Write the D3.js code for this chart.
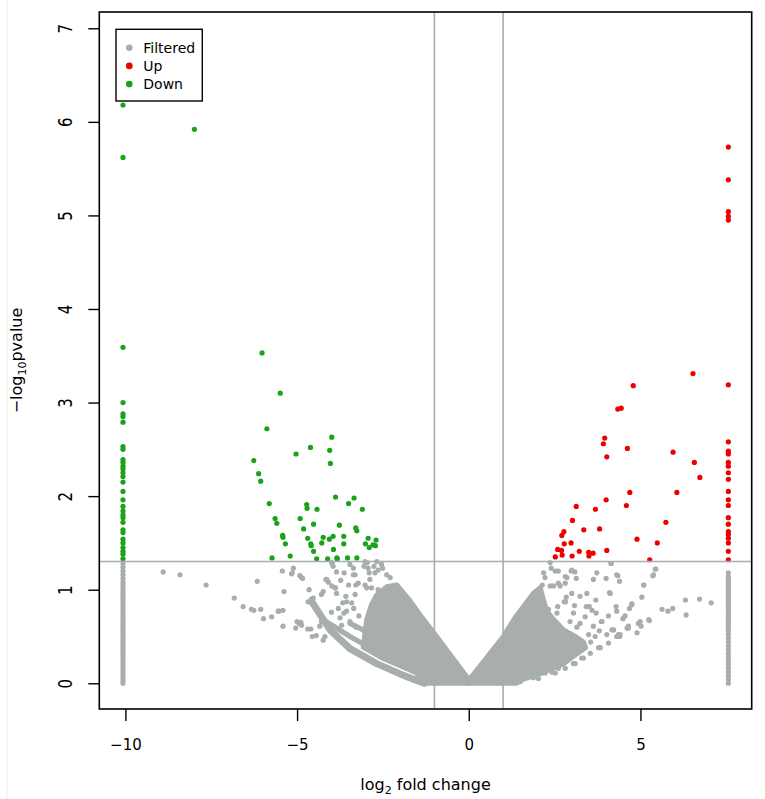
<!DOCTYPE html>
<html>
<head>
<meta charset="utf-8">
<script src="https://cdn.jsdelivr.net/npm/d3@7"></script>
<style>
  body { margin: 0; background: #fff; }
  text { font-family: "DejaVu Sans", sans-serif; fill: #000; }
</style>
</head>
<body>
<svg id="chart" width="765" height="799"></svg>
<script>
// tick labels
var xTicks = [-10, -5, 0, 5];
var yTicks = [0, 1, 2, 3, 4, 5, 6, 7];
var legendLabels = ["Filtered", "Up", "Down"];

// significant, down-regulated (log2FC, -log10 p)
var downPoints = [
  [-10.07, 6.18], [-7.99, 5.92], [-10.07, 5.62],
  [-6.02, 3.53], [-5.49, 3.10], [-5.88, 2.72], [-3.99, 2.63], [-4.61, 2.52], [-4.05, 2.49],
  [-5.03, 2.45], [-6.26, 2.38], [-4.03, 2.35], [-6.12, 2.24], [-6.06, 2.16], [-3.88, 1.99],
  [-3.34, 1.98], [-3.50, 1.92], [-5.81, 1.92], [-4.72, 1.91], [-4.71, 1.87], [-4.42, 1.86],
  [-3.10, 1.86], [-5.64, 1.76], [-5.59, 1.71], [-4.91, 1.76], [-4.52, 1.70], [-3.77, 1.69],
  [-4.81, 1.65], [-3.29, 1.66], [-3.26, 1.63], [-5.42, 1.58], [-5.41, 1.56], [-4.69, 1.55],
  [-4.24, 1.56], [-3.95, 1.57], [-3.64, 1.57], [-4.06, 1.54], [-2.93, 1.55], [-2.70, 1.53],
  [-5.34, 1.49], [-4.60, 1.49], [-4.59, 1.47], [-4.28, 1.50], [-3.64, 1.49], [-3.01, 1.49],
  [-2.79, 1.48], [-2.72, 1.47], [-2.90, 1.45], [-3.94, 1.43], [-4.52, 1.41], [-5.73, 1.34],
  [-5.20, 1.36], [-4.43, 1.33], [-4.11, 1.33], [-3.84, 1.34], [-3.83, 1.33], [-3.53, 1.34],
  [-3.26, 1.34]
];
// genes pinned at log2FC = -10 (down)
var downColumnX = -10.07;
var downColumnY = [3.59, 3.00, 2.88, 2.85, 2.79, 2.53, 2.50, 2.39, 2.36, 2.32, 2.29, 2.25, 2.21,
  2.15, 2.05, 1.96, 1.89, 1.84, 1.80, 1.77, 1.72, 1.64, 1.61, 1.54, 1.50, 1.45, 1.41, 1.38, 1.33];

// significant, up-regulated
var upPoints = [
  [6.53, 3.31], [4.79, 3.18], [4.34, 2.93], [4.44, 2.94], [3.96, 2.62], [3.92, 2.56], [4.62, 2.51],
  [4.02, 2.42], [5.95, 2.47], [6.57, 2.36], [6.73, 2.20], [6.06, 2.04], [4.69, 2.04], [4.00, 1.96],
  [4.59, 1.90], [3.13, 1.89], [3.69, 1.86], [5.74, 1.72], [3.02, 1.74], [3.35, 1.64], [3.81, 1.65],
  [2.77, 1.62], [2.71, 1.58], [4.90, 1.54], [5.49, 1.50], [2.98, 1.50], [2.78, 1.49], [2.59, 1.43],
  [2.70, 1.42], [3.22, 1.41], [3.49, 1.40], [3.62, 1.39], [4.02, 1.42], [2.52, 1.35], [2.72, 1.37],
  [3.01, 1.36], [3.50, 1.36], [5.27, 1.32]
];
var upColumnX = 7.56;
var upColumnY = [5.73, 5.38, 5.04, 4.99, 4.95, 3.19, 2.58, 2.48, 2.45, 2.36, 2.32, 2.25, 2.18,
  2.05, 1.96, 1.90, 1.77, 1.70, 1.62, 1.59, 1.55, 1.50, 1.41, 1.32];

// not significant: scattered genes
var filteredPoints = [
  [-8.90, 1.19], [-8.41, 1.16], [-7.65, 1.05], [-6.16, 1.09], [-6.83, 0.91], [-6.57, 0.82],
  [-6.33, 0.79], [-6.26, 0.78], [-6.06, 0.79], [-5.98, 0.69], [-5.74, 0.71], [-5.53, 0.77],
  [-5.41, 0.78], [-5.38, 0.98], [-5.43, 1.20], [-5.14, 1.18], [-5.41, 0.61], [-5.04, 0.59],
  [-5.00, 0.66], [-4.89, 0.65], [-4.69, 0.58], [-4.60, 0.58], [-4.56, 0.50], [-4.44, 0.51],
  [-4.24, 0.46], [-4.19, 0.50], [-4.92, 1.15], [-4.87, 1.13], [-4.65, 1.00], [-4.24, 0.98],
  [-4.14, 1.11], [-4.09, 1.08], [-3.98, 1.28], [-3.95, 1.25], [-3.88, 1.02], [-3.85, 0.96],
  [-3.63, 1.18], [-3.50, 1.05], [-3.36, 1.23], [-3.31, 1.16], [-3.22, 1.07], [-2.96, 1.29],
  [-2.76, 1.25], [-2.54, 1.27], [-5.11, 1.23], [-5.16, 1.17], [-4.84, 1.12], [-4.68, 0.87],
  [-4.58, 0.90], [-4.53, 0.91], [-4.29, 0.95], [-4.16, 1.11], [-3.99, 1.04], [-3.90, 1.02],
  [-3.73, 1.10], [-3.85, 1.19], [-3.99, 1.29], [-3.46, 1.27], [-3.36, 1.16], [-3.29, 1.05],
  [-3.58, 0.93], [-3.56, 0.87], [-3.67, 0.86], [-3.41, 0.86], [-3.75, 0.70], [-3.64, 0.75],
  [-3.56, 0.77], [-3.46, 0.66], [-3.31, 0.95], [-3.02, 1.30], [-2.93, 1.23], [-3.05, 1.25],
  [-2.90, 1.18], [-3.02, 1.05], [-2.97, 1.02], [-2.68, 1.30], [-2.64, 1.21], [-2.51, 1.23],
  [-2.73, 1.18], [-2.39, 1.16], [-2.29, 1.13], [-2.88, 1.11], [-2.83, 1.02], [-2.64, 1.00],
  [-4.34, 0.61], [-4.29, 0.66], [-4.94, 0.64], [-4.87, 0.62], [-5.55, 0.77],
  [-3.80, 0.80], [-3.70, 0.62], [-3.35, 0.80], [-3.20, 0.72], [-3.28, 0.60], [-4.00, 0.76],
  [5.63, 0.79], [5.80, 0.77], [5.94, 0.80], [6.31, 0.89], [6.72, 0.90], [7.06, 0.86], [6.33, 0.73],
  [5.26, 0.67], [4.99, 0.66], [5.02, 0.61], [4.90, 0.54], [5.04, 0.92], [5.10, 1.05], [5.36, 1.15],
  [5.43, 1.22], [4.14, 1.28], [4.31, 1.16], [4.39, 1.09], [4.10, 0.97], [4.00, 1.12], [3.73, 1.18],
  [3.63, 1.11], [3.44, 0.96], [3.70, 0.89], [3.08, 0.83], [3.00, 0.96], [3.09, 1.19], [2.82, 0.87],
  [2.59, 0.82], [3.42, 0.82], [3.59, 0.78], [3.71, 0.75], [3.86, 0.66], [4.29, 0.82], [4.31, 0.77],
  [4.49, 0.69], [4.75, 0.85], [4.68, 0.80], [4.61, 0.59], [4.22, 0.57], [4.39, 0.50], [4.02, 0.52],
  [2.37, 1.29], [2.52, 1.20], [2.18, 1.18], [2.14, 1.05], [2.37, 1.04], [2.61, 1.07], [2.86, 1.13],
  [3.00, 1.21], [2.84, 0.92], [2.08, 0.89], [2.32, 0.79], [2.40, 1.23], [2.61, 1.20], [2.22, 1.13],
  [2.47, 1.04], [2.66, 1.04], [2.81, 1.07], [2.81, 1.14], [2.98, 1.20], [3.13, 1.12], [3.24, 0.93],
  [4.15, 1.28], [4.34, 1.15], [4.12, 0.96], [3.51, 0.82], [3.39, 0.71], [3.24, 0.64], [2.78, 0.87],
  [2.57, 0.75], [3.05, 0.75], [4.07, 0.72], [3.88, 0.66], [3.63, 0.61], [3.49, 0.52], [3.68, 0.50],
  [4.17, 0.57], [4.41, 0.52], [4.65, 0.61], [4.94, 0.64], [5.09, 1.05], [4.75, 0.84], [5.24, 0.68],
  [5.38, 1.16], [5.45, 1.22], [2.95, 0.66], [3.15, 0.60], [3.55, 0.44], [3.80, 0.56], [4.55, 0.72],
  [1.35, 0.02], [1.50, 0.02], [1.88, 0.06], [2.03, 0.05], [2.13, 0.11], [2.22, 0.11], [2.42, 0.12],
  [2.52, 0.11], [2.61, 0.16], [2.81, 0.16], [3.05, 0.21], [3.10, 0.21], [3.29, 0.27], [3.34, 0.27],
  [3.54, 0.32], [3.78, 0.38], [3.83, 0.38], [4.07, 0.43], [4.31, 0.50], [4.36, 0.52], [4.65, 0.59]
];
var filteredLeftColumnX = -10.07;
var filteredLeftColumnY = [0, 0.03, 0.06, 0.09, 0.12, 0.15, 0.18, 0.21, 0.24, 0.27, 0.30, 0.33,
  0.36, 0.39, 0.42, 0.45, 0.48, 0.51, 0.54, 0.57, 0.60, 0.63, 0.66, 0.69, 0.72, 0.75, 0.78, 0.81,
  0.84, 0.87, 0.90, 0.93, 0.96, 0.99, 1.02, 1.05, 1.08, 1.12, 1.16, 1.20, 1.24, 1.28];
var filteredRightColumnX = 7.56;
var filteredRightColumnY = [0, 0.04, 0.08, 0.12, 0.16, 0.20, 0.24, 0.28, 0.32, 0.36, 0.40, 0.44,
  0.48, 0.52, 0.56, 0.60, 0.63, 0.66, 0.69, 0.72, 0.75, 0.78, 0.81, 0.84, 0.87, 0.90, 0.93, 0.96,
  0.99, 1.02, 1.05, 1.08, 1.11, 1.14, 1.18];

// the densely overplotted parts of the cloud, outlined in data units
var denseLeft = [[-3.07, 0.385], [-2.97, 0.68], [-2.83, 0.84], [-2.68, 0.94], [-2.39, 1.03],
  [-2.10, 1.05], [-1.71, 0.88], [-1.42, 0.73], [-0.98, 0.52], [-0.45, 0.26], [0, 0.04], [0, 0],
  [-1.32, 0], [-1.52, 0.11], [-1.91, 0.175], [-2.49, 0.265]];
var denseRight = [[0, 0.03], [0.28, 0.16], [0.67, 0.34], [1.01, 0.50], [1.35, 0.70], [1.64, 0.84],
  [1.88, 0.96], [2.08, 1.02], [2.15, 0.92], [2.27, 0.77], [2.47, 0.68], [2.76, 0.57], [3.10, 0.50],
  [3.34, 0.44], [3.40, 0.38], [3.05, 0.29], [2.76, 0.21], [2.37, 0.15], [1.98, 0.09], [1.55, 0.04],
  [1.40, 0], [0, 0]];
var strandLow = [[-4.57, 0.87], [-4.04, 0.57], [-3.46, 0.37], [-2.68, 0.21], [-2.00, 0.10],
  [-1.52, 0.03], [-1.30, 0.0]];
var strandMid = [[-4.24, 0.68], [-3.46, 0.50], [-3.07, 0.42]];
var strandUpper = [[-3.46, 0.64], [-2.97, 0.55]];

var fcCut = [-1, 1];
var pCut = 1.301;

var colGray = "#a8adad", colUp = "#ee0000", colDown = "#18a318";

function drawChart() {
    var svg = d3.select("#chart");
    var left = 99.3, right = 751.7, top = 12, bottom = 709;

    var x = d3.scaleLinear().domain([-10.76, 8.24]).range([left, right]);
    var y = d3.scaleLinear().domain([-0.275, 7.174]).range([bottom, top]);

    // faint figure border on the left
    svg.append("line").attr("x1", 7).attr("x2", 7).attr("y1", 0).attr("y2", 799)
        .attr("stroke", "#ececec").attr("stroke-width", 1);

    var plot = svg.append("g");

    var area = d3.line().x(function (d) { return x(d[0]); }).y(function (d) { return y(d[1]); });

    [denseLeft, denseRight].forEach(function (poly) {
        plot.append("path")
            .attr("d", area.curve(d3.curveLinearClosed)(poly))
            .attr("fill", colGray).attr("stroke", colGray)
            .attr("stroke-width", 5.2).attr("stroke-linejoin", "round");
    });
    [[strandLow, 7], [strandMid, 5.2], [strandUpper, 5.2]].forEach(function (s) {
        plot.append("path")
            .attr("d", area.curve(d3.curveLinear)(s[0]))
            .attr("fill", "none").attr("stroke", colGray)
            .attr("stroke-width", s[1]).attr("stroke-linecap", "round").attr("stroke-linejoin", "round");
    });

    function dots(data, colour) {
        plot.append("g").selectAll("circle")
            .data(data)
            .enter()
            .append("circle")
            .attr("cx", function (d) { return x(d[0]); })
            .attr("cy", function (d) { return y(d[1]); })
            .attr("r", 2.6)
            .attr("fill", colour);
    }

    var col = function (cx, ys) { return ys.map(function (v) { return [cx, v]; }); };

    dots(filteredPoints, colGray);
    dots(col(filteredLeftColumnX, filteredLeftColumnY), colGray);
    dots(col(filteredRightColumnX, filteredRightColumnY), colGray);
    dots(upPoints, colUp);
    dots(col(upColumnX, upColumnY), colUp);
    dots(downPoints, colDown);
    dots(col(downColumnX, downColumnY), colDown);

    // threshold lines
    fcCut.forEach(function (v) {
        plot.append("line").attr("x1", x(v)).attr("x2", x(v)).attr("y1", top).attr("y2", bottom)
            .attr("stroke", colGray).attr("stroke-width", 1.6);
    });
    plot.append("line").attr("x1", left).attr("x2", right).attr("y1", y(pCut)).attr("y2", y(pCut))
        .attr("stroke", colGray).attr("stroke-width", 1.6);

    // box
    svg.append("rect").attr("x", left).attr("y", top)
        .attr("width", right - left).attr("height", bottom - top)
        .attr("fill", "none").attr("stroke", "#000").attr("stroke-width", 1.6);

    // x axis
    var gx = svg.append("g")
        .attr("transform", "translate(0," + bottom + ")")
        .call(d3.axisBottom(x).tickValues(xTicks).tickSize(12).tickSizeOuter(0)
            .tickFormat(function (d) { return d < 0 ? "\u2212" + Math.abs(d) : d; }));
    gx.select(".domain").remove();
    gx.selectAll(".tick line").attr("stroke", "#000").attr("stroke-width", 1.4);
    gx.selectAll(".tick text").attr("y", 41).attr("dy", 0)
        .style("font-size", "15px").attr("fill", "#000");

    // y axis, labels rotated like base R
    var gy = svg.append("g")
        .attr("transform", "translate(" + left + ",0)")
        .call(d3.axisLeft(y).tickValues(yTicks).tickSize(11).tickSizeOuter(0));
    gy.select(".domain").remove();
    gy.selectAll(".tick line").attr("stroke", "#000").attr("stroke-width", 1.4);
    gy.selectAll(".tick text")
        .attr("x", null).attr("dy", "0.36em")
        .attr("text-anchor", "middle")
        .attr("transform", "translate(-34.3,0) scale(1.24,1) rotate(-90)")
        .style("font-size", "15px").attr("fill", "#000");

    // axis titles
    var xt = svg.append("text")
        .attr("x", (left + right) / 2).attr("y", 790)
        .attr("text-anchor", "middle").style("font-size", "16px");
    xt.append("tspan").text("log");
    xt.append("tspan").attr("dy", 4).style("font-size", "11px").text("2");
    xt.append("tspan").attr("dy", -4).text(" fold change");

    var yt = svg.append("text")
        .attr("transform", "translate(22," + (top + bottom) / 2 + ") rotate(-90)")
        .attr("text-anchor", "middle").style("font-size", "16px");
    yt.append("tspan").text("\u2212log");
    yt.append("tspan").attr("dy", 4).style("font-size", "11px").text("10");
    yt.append("tspan").attr("dy", -4).text("pvalue");

    // legend
    var lg = svg.append("g");
    lg.append("rect").attr("x", 116).attr("y", 29.3).attr("width", 86.3).attr("height", 71.7)
        .attr("fill", "#fff").attr("stroke", "#000").attr("stroke-width", 1.4);
    var legendColours = [colGray, colUp, colDown];
    var rows = lg.selectAll("g.row").data(legendLabels).enter().append("g")
        .attr("transform", function (d, i) { return "translate(129.3," + (47.7 + i * 18.2) + ")"; });
    rows.append("circle").attr("r", 3.3).attr("fill", function (d, i) { return legendColours[i]; });
    rows.append("text").attr("x", 14).attr("dy", "0.36em").style("font-size", "14px")
        .text(function (d) { return d; });
}

drawChart();
</script>
</body>
</html>
